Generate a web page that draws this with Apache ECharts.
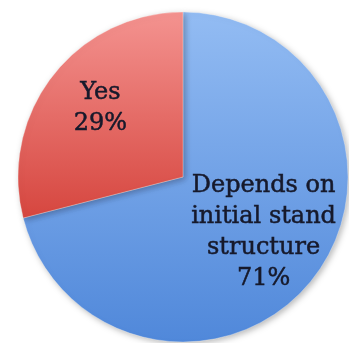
<!DOCTYPE html>
<html>
<head>
<meta charset="utf-8">
<script src="https://cdn.jsdelivr.net/npm/echarts@6/dist/echarts.min.js"></script>
<style>
  html, body { margin: 0; padding: 0; background: #ffffff; }
  #chart { width: 349px; height: 343px; }
</style>
</head>
<body>
<div id="chart"></div>
<script>
// Answer categories and their shares (percent)
const categories = ['Depends on\ninitial stand\nstructure', 'Yes'];
const shares = [71, 29];

// Vertical fills: lighter at the top, deeper at the bottom
const fills = [
  ['#93bcf3', '#5088da'],
  ['#f49390', '#d6463f']
];
// Per-slice nudge of the inside labels
const labelShift = [[13, 3], [-15, -16]];

const chart = echarts.init(document.getElementById('chart'), null, { renderer: 'canvas' });

chart.setOption({
  animation: false,
  series: [{
    type: 'pie',
    center: [183, 177],
    radius: 165,
    startAngle: 90,
    clockwise: true,
    silent: true,
    itemStyle: {
      borderColor: 'rgba(255,255,255,0.6)',
      borderWidth: 0.5,
      shadowBlur: 6,
      shadowOffsetX: 2,
      shadowOffsetY: 2,
      shadowColor: 'rgba(0,0,0,0.28)'
    },
    label: {
      show: true,
      position: 'inside',
      formatter: p => p.name + '\n' + p.value + '%',
      fontFamily: '"DejaVu Serif", serif',
      fontSize: 24,
      lineHeight: 31,
      color: '#16192b',
      textBorderColor: '#16192b',
      textBorderWidth: 0.5,
      align: 'center'
    },
    labelLine: { show: false },
    labelLayout: p => ({ dx: labelShift[p.dataIndex][0], dy: labelShift[p.dataIndex][1] }),
    data: categories.map((name, i) => ({
      name: name,
      value: shares[i],
      itemStyle: {
        color: new echarts.graphic.LinearGradient(0, 0, 0, 1, [
          { offset: 0, color: fills[i][0] },
          { offset: 1, color: fills[i][1] }
        ])
      }
    }))
  }]
});
</script>
</body>
</html>
